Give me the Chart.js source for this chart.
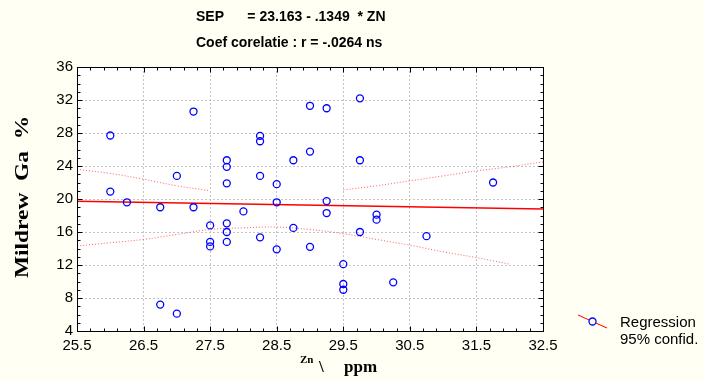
<!DOCTYPE html>
<html>
<head>
<meta charset="utf-8">
<script src="https://cdn.jsdelivr.net/npm/chart.js@4.4.0/dist/chart.umd.min.js"></script>
<style>
html, body { margin: 0; padding: 0; background: #fffff4; }
</style>
</head>
<body>
<canvas id="znChart" width="704" height="381"></canvas>
<script>
// Zn (ppm) vs mildew (%) observations
var znValues = [
    26.0, 26.0, 26.25, 26.75, 26.75, 27.0, 27.0, 27.25, 27.25, 27.5,
    27.5, 27.5, 27.75, 27.75, 27.75, 27.75, 27.75, 27.75, 28.0, 28.25,
    28.25, 28.25, 28.25, 28.5, 28.5, 28.5, 28.75, 28.75, 29.0, 29.0,
    29.0, 29.25, 29.25, 29.25, 29.5, 29.5, 29.5, 29.75, 29.75, 29.75,
    30.0, 30.0, 30.25, 30.75, 31.75
];
var mildewValues = [
    27.7, 20.9, 19.6, 19.0, 7.2, 22.8, 6.1, 30.6, 19.0, 16.8,
    14.8, 14.25, 24.7, 23.9, 21.9, 17.05, 16.0, 14.8, 18.5, 27.65,
    27.0, 22.8, 15.35, 21.8, 19.6, 13.9, 24.7, 16.5, 31.3, 25.75,
    14.2, 31.0, 19.75, 18.3, 12.1, 9.7, 9.0, 32.2, 24.7, 16.0,
    18.1, 17.5, 9.9, 15.5, 22.0
];

// regression SEP = a + b * ZN
var regA = 23.163;
var regB = -0.1349;

// 95% confidence band
var bandX = [25.5, 26, 26.5, 27, 27.5, 28, 28.5, 29, 29.5, 30, 30.5, 31, 31.5, 32, 32.5];
var bandUpper = [23.6, 23.1, 22.4, 21.6, 21.0, null, null, null, 21.1, 21.6, 22.2, 22.8, 23.4, 23.9, 24.5];
var bandLower = [14.3, 14.7, 15.1, 15.7, 16.3, 16.5, 16.6, 16.3, 15.8, 15.1, 14.4, 13.6, 12.9, 12.1, null];

var xTicks = [25.5, 26.5, 27.5, 28.5, 29.5, 30.5, 31.5, 32.5];
var yTicks = [4, 8, 12, 16, 20, 24, 28, 32, 36];

function toPoints(xs, ys) {
    return xs.map(function(x, i) { return { x: x, y: ys[i] }; });
}

var regLine = [xTicks[0], xTicks[xTicks.length - 1]].map(function(x) {
    return { x: x, y: regA + regB * x };
});

// background, frame, inward ticks and the texts
var framePlugin = {
    id: 'frame',
    beforeDraw: function(chart) {
        var c = chart.ctx, a = chart.chartArea;
        c.save();
        c.fillStyle = '#fffff4';
        c.fillRect(0, 0, chart.width, chart.height);
        c.fillStyle = '#ffffff';
        c.fillRect(a.left, a.top, a.right - a.left, a.bottom - a.top);
        c.restore();
    },
    afterDraw: function(chart) {
        var c = chart.ctx, a = chart.chartArea;
        var xs = chart.scales.x, ys = chart.scales.y;
        c.save();
        c.strokeStyle = '#000';
        c.lineWidth = 1;
        var l = Math.round(a.left) + 0.5, r = Math.round(a.right) + 0.5;
        var t = Math.round(a.top) + 0.5, b = Math.round(a.bottom) + 0.5;
        c.strokeRect(l, t, r - l, b - t);

        c.beginPath();
        // x ticks every 0.2, majors at the labels
        for (var i = 0; i <= 35; i++) {
            var px = Math.round(xs.getPixelForValue(xTicks[0] + i * 0.2)) + 0.5;
            var len = (i % 5 === 0) ? 5 : 3;
            c.moveTo(px, b); c.lineTo(px, b - len);
            c.moveTo(px, t); c.lineTo(px, t + len);
        }
        // y ticks every 1
        for (var v = yTicks[0]; v <= yTicks[yTicks.length - 1]; v++) {
            var py = Math.round(ys.getPixelForValue(v)) + 0.5;
            var len2 = (v % 4 === 0) ? 5 : 3;
            c.moveTo(l, py); c.lineTo(l + len2, py);
            c.moveTo(r, py); c.lineTo(r - len2, py);
        }
        c.stroke();

        // titles
        c.fillStyle = '#000';
        c.textAlign = 'left';
        c.textBaseline = 'middle';
        c.font = 'bold 14px "Liberation Sans", Arial, sans-serif';
        c.fillText('SEP      = 23.163 - .1349  * ZN', 196, 17);
        c.fillText('Coef corelatie : r = -.0264 ns', 196, 43);

        // x axis title
        c.textBaseline = 'alphabetic';
        c.font = 'bold 11px "Liberation Serif", serif';
        c.fillText('Zn', 300, 363);
        c.font = 'bold 17px "Liberation Serif", serif';
        c.fillText('\\', 319, 372);
        c.fillText('ppm', 344, 372);

        // y axis title
        c.save();
        c.translate(23, 197);
        c.rotate(-Math.PI / 2);
        c.scale(1.3, 1);
        c.textAlign = 'center';
        c.textBaseline = 'middle';
        c.font = 'bold 18px "Liberation Serif", serif';
        c.fillText('Mildrew  Ga  %', 0, 0);
        c.restore();

        // legend
        c.strokeStyle = '#ff0000';
        c.beginPath();
        c.moveTo(578, 315); c.lineTo(607, 328);
        c.stroke();
        c.fillStyle = '#ffffff';
        c.strokeStyle = '#0000ff';
        c.lineWidth = 1.3;
        c.beginPath();
        c.arc(592.5, 321.5, 3.5, 0, Math.PI * 2);
        c.fill(); c.stroke();
        c.fillStyle = '#000';
        c.textBaseline = 'middle';
        c.font = '15px "Liberation Sans", Arial, sans-serif';
        c.fillText('Regression', 620, 323);
        c.fillText('95% confid.', 620, 340);
        c.restore();
    }
};

var ctx = document.getElementById('znChart').getContext('2d');
var znChart = new Chart(ctx, {
    type: 'scatter',
    data: {
        datasets: [{
            label: 'Mildrew Ga %',
            data: toPoints(znValues, mildewValues),
            borderColor: '#0000ff',
            backgroundColor: 'rgba(0,0,0,0)',
            borderWidth: 1.3,
            pointRadius: 3.5,
            order: 0
        }, {
            type: 'line',
            label: 'Regression',
            data: regLine,
            borderColor: '#ff0000',
            borderWidth: 1.5,
            pointRadius: 0,
            order: 1
        }, {
            type: 'line',
            label: '95% upper',
            data: toPoints(bandX, bandUpper),
            borderColor: 'rgba(255,40,40,0.75)',
            borderWidth: 1,
            borderDash: [1, 2],
            pointRadius: 0,
            tension: 0.4,
            spanGaps: false,
            order: 2
        }, {
            type: 'line',
            label: '95% lower',
            data: toPoints(bandX, bandLower),
            borderColor: 'rgba(255,40,40,0.75)',
            borderWidth: 1,
            borderDash: [1, 2],
            pointRadius: 0,
            tension: 0.4,
            spanGaps: false,
            order: 2
        }]
    },
    options: {
        responsive: false,
        animation: false,
        layout: { padding: { top: 67, right: 161, bottom: 0, left: 0 } },
        plugins: {
            legend: { display: false },
            tooltip: { enabled: false }
        },
        scales: {
            x: {
                type: 'linear',
                min: 25.5,
                max: 32.5,
                afterBuildTicks: function(scale) {
                    scale.ticks = xTicks.map(function(v) { return { value: v }; });
                },
                afterFit: function(scale) { scale.height = 50; },
                grid: { color: '#c4c4c4', drawTicks: false },
                border: { display: false, dash: [2, 2] },
                ticks: {
                    padding: 6,
                    color: '#000',
                    font: { family: '"Liberation Sans", Arial, sans-serif', size: 15 },
                    callback: function(v) { return v.toFixed(1); }
                }
            },
            y: {
                min: 4,
                max: 36,
                afterBuildTicks: function(scale) {
                    scale.ticks = yTicks.map(function(v) { return { value: v }; });
                },
                afterFit: function(scale) { scale.width = 77; },
                grid: { color: '#c4c4c4', drawTicks: false },
                border: { display: false, dash: [2, 2] },
                ticks: {
                    padding: 4,
                    color: '#000',
                    font: { family: '"Liberation Sans", Arial, sans-serif', size: 15 },
                    callback: function(v) { return String(v); }
                }
            }
        }
    },
    plugins: [framePlugin]
});
</script>
</body>
</html>
